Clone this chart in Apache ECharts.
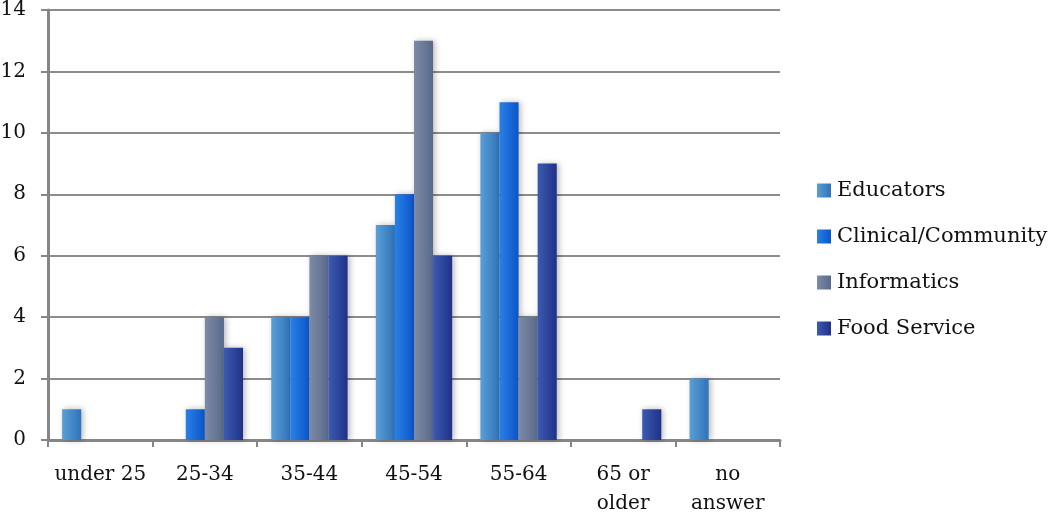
<!DOCTYPE html>
<html><head><meta charset="utf-8">
<script src="https://cdn.jsdelivr.net/npm/echarts@6/dist/echarts.min.js"></script>
<style>html,body{margin:0;padding:0;background:#fff}#c{width:1050px;height:514px}</style>
</head><body><div id="c"></div>
<script>
const categories = ['under 25', '25-34', '35-44', '45-54', '55-64', '65 or\nolder', 'no\nanswer'];
const educators = [1, 0, 4, 7, 10, 0, 2];
const clinical = [0, 1, 4, 8, 11, 0, 0];
const informatics = [0, 4, 6, 13, 4, 0, 0];
const foodService = [0, 3, 6, 6, 9, 1, 0];
const seriesNames = ['Educators', 'Clinical/Community', 'Informatics', 'Food Service'];
const yTicks = {min: 0, max: 14, interval: 2};

const FONT = 'DejaVu Serif';
function grad(a, b) {
  return new echarts.graphic.LinearGradient(0, 0, 1, 0, [{offset: 0, color: a}, {offset: 1, color: b}]);
}
const palette = [
  ['#5a9fd6', '#2f73b9'],
  ['#2a80e6', '#0b55c9'],
  ['#7d8ba6', '#59698a'],
  ['#3c5bb0', '#1f3189']
];
const allData = [educators, clinical, informatics, foodService];
const chart = echarts.init(document.getElementById('c'));
chart.setOption({
  animation: false,
  grid: {left: 48, right: 270, top: 10, bottom: 74, containLabel: false, outerBoundsMode: 'none'},
  legend: {
    orient: 'vertical', left: 812, top: 175, itemWidth: 14, itemHeight: 14, itemGap: 25,
    icon: 'rect',
    textStyle: {fontFamily: FONT, fontSize: 21, color: '#111', padding: [0, 0, 0, 1]},
    data: seriesNames
  },
  xAxis: {
    type: 'category', data: categories,
    axisLine: {lineStyle: {color: '#868686', width: 3}},
    axisTick: {show: true, length: 7, lineStyle: {color: '#868686', width: 2}},
    axisLabel: {fontFamily: FONT, fontSize: 20, color: '#111', margin: 20, lineHeight: 29, interval: 0}
  },
  yAxis: {
    type: 'value', min: yTicks.min, max: yTicks.max, interval: yTicks.interval,
    axisLine: {show: true, lineStyle: {color: '#868686', width: 3}},
    axisTick: {show: true, length: 7, lineStyle: {color: '#868686', width: 2}},
    splitLine: {lineStyle: {color: '#8c8c8c', width: 2}},
    axisLabel: {fontFamily: FONT, fontSize: 20, color: '#111', margin: 22}
  },
  series: seriesNames.map((n, i) => ({
    name: n, type: 'bar', barGap: '0%', barCategoryGap: '27%',
    data: allData[i].map(v => v === 0 ? '-' : v),
    itemStyle: {
      color: grad(palette[i][0], palette[i][1]),
      shadowColor: 'rgba(0,0,0,0.28)', shadowBlur: 6, shadowOffsetX: 2, shadowOffsetY: 0
    }
  }))
});
</script></body></html>
